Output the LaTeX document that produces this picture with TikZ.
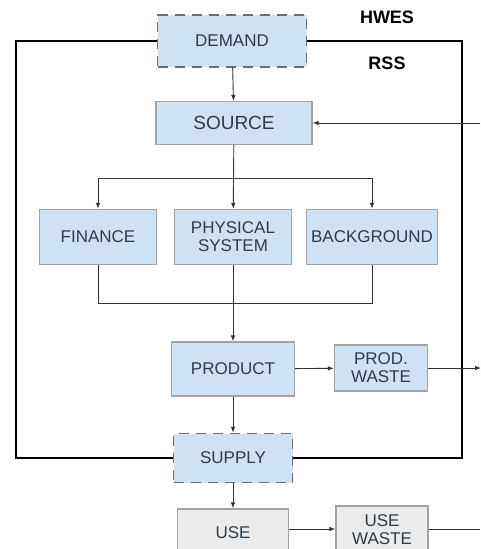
\documentclass[tikz,border=0pt]{standalone}
\usepackage{fontspec}
\setmainfont{Liberation Sans}
\usetikzlibrary{arrows.meta,positioning,calc}

\definecolor{boxblue}{HTML}{CFE2F3}
\definecolor{boxgrey}{HTML}{EBEBEB}
\definecolor{edgegrey}{HTML}{A3A3A3}
\definecolor{dashgrey}{HTML}{6E6E6E}
\definecolor{txt}{HTML}{2E3B48}

\begin{document}
\begin{tikzpicture}[x=1pt,y=-1pt,
  blk/.style={draw=edgegrey,fill=boxblue,line width=1.2pt,text=txt,
    font=\fontsize{17}{18}\selectfont,align=center,inner sep=0pt},
  gateblk/.style={blk,draw=dashgrey,line width=1.5pt,dash pattern=on 10pt off 7pt},
  useblk/.style={blk,fill=boxgrey},
  arr/.style={draw=black!80,line width=0.9pt,-{Latex[length=6pt,width=4.5pt]}},
  ln/.style={draw=black!80,line width=0.9pt},
  frame/.style={draw=black,line width=2.8pt},
  tag/.style={font=\fontsize{18}{18}\selectfont\bfseries}]
  \clip (0,0) rectangle (480,549);
  \fill[white] (0,0) rectangle (480,549);
  % boxes
  \node[gateblk,minimum width=149pt,minimum height=52pt] (dem) at (232,41) {DEMAND};
  \node[blk,minimum width=156pt,minimum height=43pt,font=\fontsize{19}{19}\selectfont] (src) at (234,123) {SOURCE};
  \node[blk,minimum width=117pt,minimum height=55pt] (fin) at (98,237) {FINANCE};
  \node[blk,minimum width=117pt,minimum height=55pt] (phys) at (233,237) {PHYSICAL\\SYSTEM};
  \node[blk,minimum width=131pt,minimum height=55pt] (bg) at (372,237) {BACKGROUND};
  \node[blk,minimum width=123pt,minimum height=54pt] (prod) at (233,369) {PRODUCT};
  \node[blk,minimum width=93pt,minimum height=46pt] (pwaste) at (381,368) {PROD.\\WASTE};
  \node[gateblk,minimum width=119pt,minimum height=49pt] (sup) at (233,458) {SUPPLY};
  \node[useblk,minimum width=111pt,minimum height=48pt] (use) at (233,533) {USE};
  \node[useblk,minimum width=92pt,minimum height=48pt] (uwaste) at (382,530) {USE\\WASTE};
  \node[tag] (hwes) at (387,17) {HWES};
  \node[tag] (rss) at (387,63) {RSS};
  % frame of the RSS
  \coordinate (tl) at (16,41); \coordinate (bl) at (16,458);
  \coordinate (tr) at (462,41); \coordinate (br) at (462,458);
  \draw[frame] (dem.west) -- (tl) -- (bl) -- (sup.west);
  \draw[frame] (sup.east) -- (br) -- (tr) -- (dem.east);
  % flows
  \coordinate (split) at (233,178); \coordinate (join) at (233,303);
  \coordinate (fbin) at (480,123); \coordinate (fbout) at (481,368);
  \coordinate (uout) at (480,529);
  \draw[arr] (dem) -- (src);
  \draw[arr] (src) -- (phys);
  \draw[arr] (split) -| (fin);
  \draw[arr] (split) -| (bg);
  \draw[ln] (fin) |- (join);
  \draw[ln] (bg) |- (join);
  \draw[arr] (phys) -- (prod);
  \draw[arr] (prod) -- (pwaste);
  \draw[arr] (pwaste) -- (fbout);
  \draw[arr] (fbin) -- (src);
  \draw[arr] (prod) -- (sup);
  \draw[arr] (sup) -- (use);
  \draw[arr] (use.east |- uout) -- (uwaste.west |- uout);
  \draw[ln] (uwaste.east |- uout) -- (uout);
\end{tikzpicture}
\end{document}
